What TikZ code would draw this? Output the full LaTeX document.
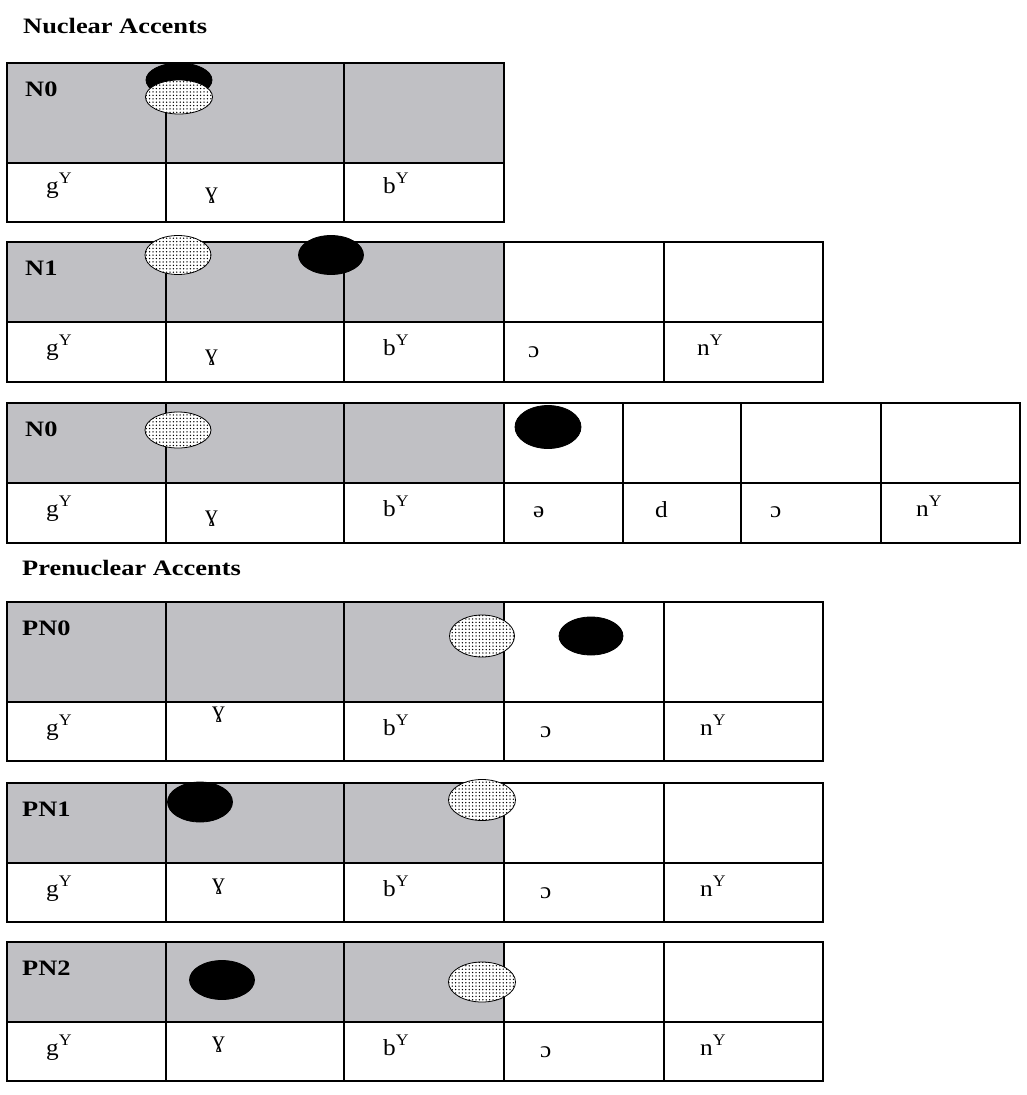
\documentclass[tikz,border=0pt]{standalone}
\usepackage{graphicx}
\usepackage{fontspec}
\setmainfont{Liberation Serif}
\usetikzlibrary{shapes.geometric,patterns}
\definecolor{cellgray}{RGB}{192,192,196}
\pgfdeclarepatternformonly{bigdots}{\pgfqpoint{-1pt}{-1pt}}{\pgfqpoint{1pt}{1pt}}{\pgfqpoint{3.4pt}{3.4pt}}%
{\pgfpathcircle{\pgfqpoint{0pt}{0pt}}{0.75pt}\pgfusepath{fill}}
\tikzset{
  grid/.style={line width=1.3pt, draw=black},
  lbl/.style={font=\bfseries\fontsize{22}{24}\selectfont, anchor=base west, inner sep=0pt},
  ipa/.style={font=\fontsize{23}{26}\selectfont, anchor=base west, inner sep=0pt},
  hi/.style={ellipse, draw=black, line width=0.8pt, preaction={fill=white}, pattern=bigdots, inner sep=0pt},
  lo/.style={ellipse, draw=black, line width=0.8pt, fill=black, inner sep=0pt},
}
\newcommand\acctable[5]{%
  \fill[cellgray] (7,#1) rectangle (504,#2);
  \draw[grid] (7,#1) rectangle (#4,#3);
  \draw[grid] (7,#2) -- (#4,#2);
  \foreach \x in {#5} \draw[grid] (\x,#1) -- (\x,#3);
}
\newcommand\wide[1]{\scalebox{1.2}[1]{#1}}
\newcommand\ipaw[1]{\scalebox{1.1}[1]{#1}}
\newcommand\pal{\textsuperscript{Y}}
\begin{document}
\begin{tikzpicture}[x=1pt,y=-1pt]
\useasboundingbox (0,0) rectangle (1026,1095);
\fill[white] (0,0) rectangle (1026,1095);

% titles
\node[lbl] (tnuc) at (23,33) {\wide{Nuclear Accents}};
\node[lbl] (tpre) at (22,575) {\wide{Prenuclear Accents}};

% ---- Table 1: N0
\acctable{63}{163}{222}{504}{166,344}
\node[lbl] (l1) at (25,96) {\wide{N0}};
\node[lo, minimum width=66pt, minimum height=34pt] (b1) at (179,80) {};
\node[hi, minimum width=67pt, minimum height=34pt] (d1) at (179,97) {};
\node[ipa] (a1) at (46,193) {\ipaw{g\pal}};
\node[ipa] (a2) at (205,198) {\ipaw{ɣ}};
\node[ipa] (a3) at (383,193) {\ipaw{b\pal}};

% ---- Table 2: N1
\acctable{242}{322}{382}{823}{166,344,504,664}
\node[lbl] (l2) at (25,275) {\wide{N1}};
\node[hi, minimum width=66pt, minimum height=39pt] (d2) at (178,255) {};
\node[lo, minimum width=65pt, minimum height=39pt] (b2) at (331,255) {};
\node[ipa] (c1) at (46,355) {\ipaw{g\pal}};
\node[ipa] (c2) at (205,360) {\ipaw{ɣ}};
\node[ipa] (c3) at (383,355) {\ipaw{b\pal}};
\node[ipa] (c4) at (528,357) {\ipaw{ɔ}};
\node[ipa] (c5) at (697,355) {\ipaw{n\pal}};

% ---- Table 3: N0
\acctable{403}{483}{543}{1020}{166,344,504,623,741,881}
\node[lbl] (l3) at (25,436) {\wide{N0}};
\node[hi, minimum width=66pt, minimum height=36pt] (d3) at (178,430) {};
\node[lo, minimum width=66pt, minimum height=43pt] (b3) at (548,427) {};
\node[ipa] (e1) at (46,516) {\ipaw{g\pal}};
\node[ipa] (e2) at (205,521) {\ipaw{ɣ}};
\node[ipa] (e3) at (383,516) {\ipaw{b\pal}};
\node[ipa] (e4) at (533,517) {\ipaw{ə}};
\node[ipa] (e5) at (655,517) {\ipaw{d}};
\node[ipa] (e6) at (770,517) {\ipaw{ɔ}};
\node[ipa] (e7) at (916,516) {\ipaw{n\pal}};

% ---- Table 4: PN0
\acctable{602}{702}{761}{823}{166,344,504,664}
\node[lbl] (l4) at (22,635) {\wide{PN0}};
\node[hi, minimum width=65pt, minimum height=42pt] (d4) at (482,636) {};
\node[lo, minimum width=64pt, minimum height=38pt] (b4) at (591,636) {};
\node[ipa] (f1) at (46,735) {\ipaw{g\pal}};
\node[ipa] (f2) at (212,717) {\ipaw{ɣ}};
\node[ipa] (f3) at (383,735) {\ipaw{b\pal}};
\node[ipa] (f4) at (540,737) {\ipaw{ɔ}};
\node[ipa] (f5) at (700,735) {\ipaw{n\pal}};

% ---- Table 5: PN1
\acctable{783}{863}{922}{823}{166,344,504,664}
\node[lbl] (l5) at (22,816) {\wide{PN1}};
\node[lo, minimum width=65pt, minimum height=40pt] (b5) at (200,802) {};
\node[hi, minimum width=67pt, minimum height=41pt] (d5) at (482,800) {};
\node[ipa] (g1) at (46,896) {\ipaw{g\pal}};
\node[ipa] (g2) at (212,889) {\ipaw{ɣ}};
\node[ipa] (g3) at (383,896) {\ipaw{b\pal}};
\node[ipa] (g4) at (540,898) {\ipaw{ɔ}};
\node[ipa] (g5) at (700,896) {\ipaw{n\pal}};

% ---- Table 6: PN2
\acctable{942}{1022}{1081}{823}{166,344,504,664}
\node[lbl] (l6) at (22,975) {\wide{PN2}};
\node[lo, minimum width=65pt, minimum height=39pt] (b6) at (222,980) {};
\node[hi, minimum width=67pt, minimum height=40pt] (d6) at (482,982) {};
\node[ipa] (h1) at (46,1055) {\ipaw{g\pal}};
\node[ipa] (h2) at (212,1047) {\ipaw{ɣ}};
\node[ipa] (h3) at (383,1055) {\ipaw{b\pal}};
\node[ipa] (h4) at (540,1057) {\ipaw{ɔ}};
\node[ipa] (h5) at (700,1055) {\ipaw{n\pal}};
\end{tikzpicture}
\end{document}
